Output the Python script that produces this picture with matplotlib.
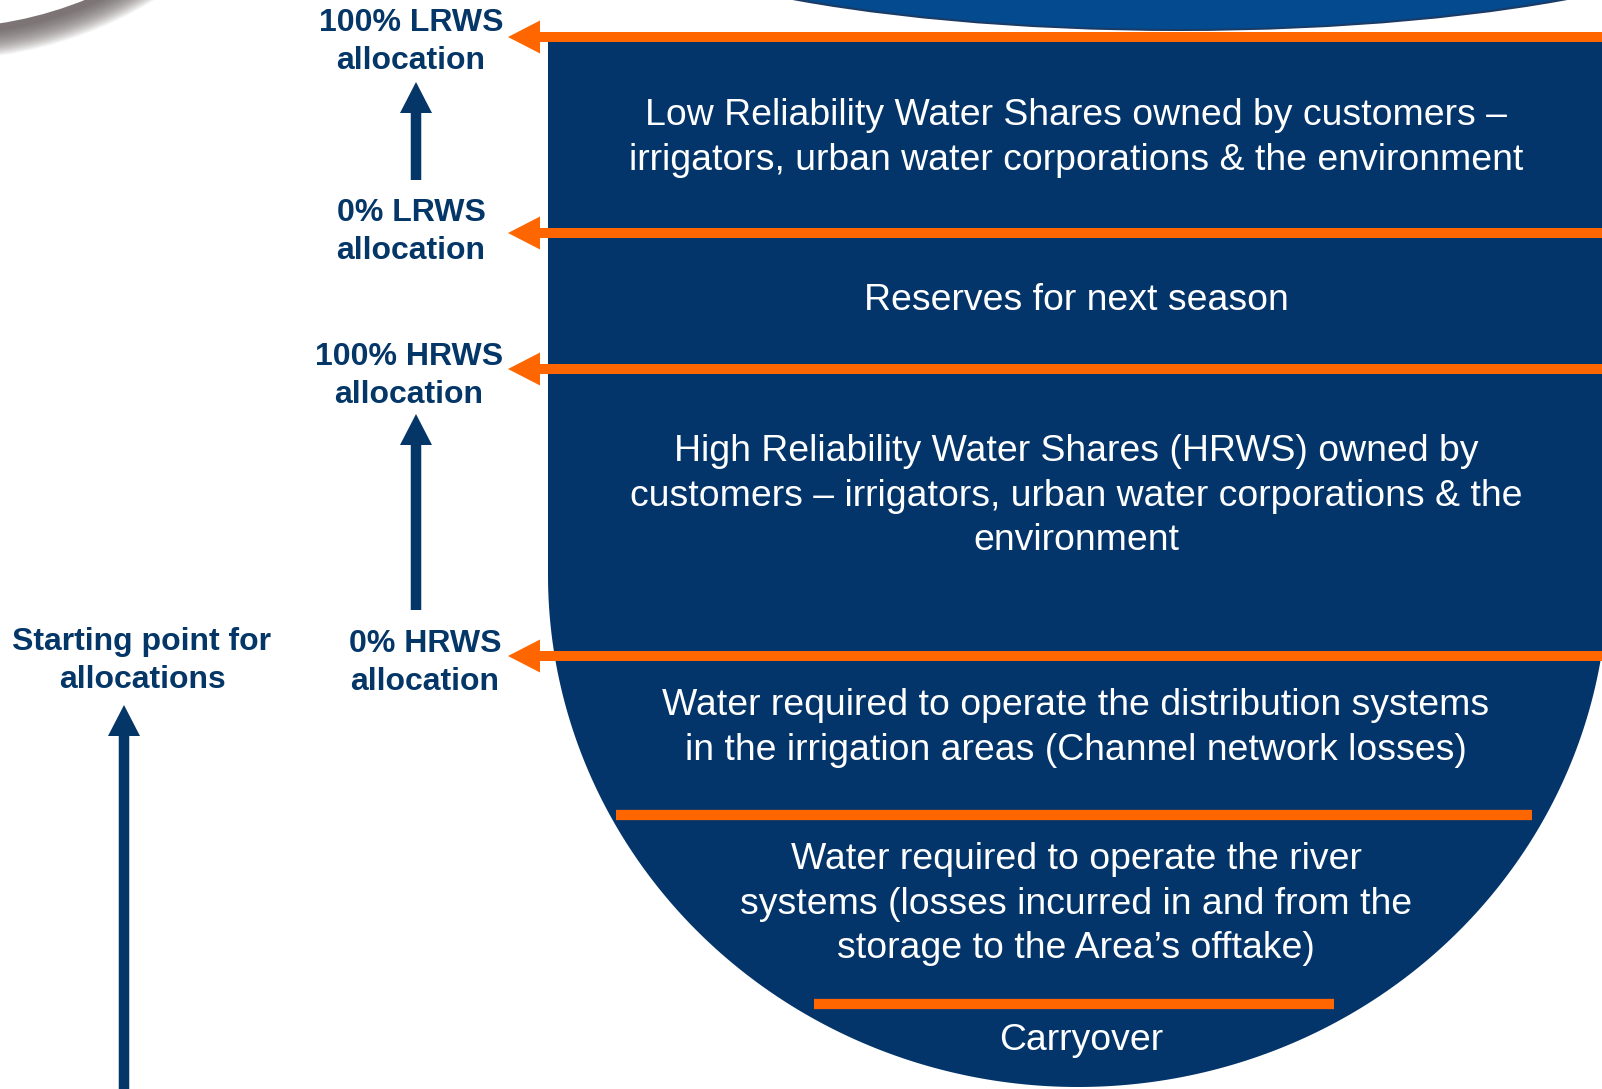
import numpy as np
import matplotlib
matplotlib.use("Agg")
import matplotlib.pyplot as plt
from matplotlib.patches import Polygon, FancyArrow, Ellipse, Circle

plt.rcParams['font.family'] = ['Liberation Sans', 'DejaVu Sans']

NAVY = "#03356a"
ORANGE = "#ff6600"
LABEL = "#043667"

# boundaries between the layers of the storage (pixel rows, top -> bottom)
level_y = [37, 233, 369, 656, 815, 1004]
level_arrow = [True, True, True, True, False, False]

# labels for the allocation steps on the left
step_labels = ["100% LRWS\nallocation", "0% LRWS\nallocation",
               "100% HRWS\nallocation", "0% HRWS\nallocation"]
step_x = [411, 411, 409, 425]
step_y = [42, 232, 376, 663]

start_label = "Starting point for\nallocations"

# text inside the bowl, top -> bottom
layer_texts = [
    "Low Reliability Water Shares owned by customers \u2013\nirrigators, urban water corporations & the environment",
    "Reserves for next season",
    "High Reliability Water Shares (HRWS) owned by\ncustomers \u2013 irrigators, urban water corporations & the\nenvironment",
    "Water required to operate the distribution systems\nin the irrigation areas (Channel network losses)",
    "Water required to operate the river\nsystems (losses incurred in and from the\nstorage to the Area\u2019s offtake)",
    "Carryover",
]
layer_text_x = [1076, 1076, 1076, 1076, 1076, 1081]
layer_text_y = [138, 301, 496, 728, 904, 1041]


def half_width(y, cy, a, b):
    if y <= cy:
        return a
    t = min((y - cy) / b, 1.0)
    return a * np.sqrt(1 - t * t)


def main():
    fig = plt.figure(figsize=(16.02, 10.89), dpi=100)
    ax = fig.add_axes([0, 0, 1, 1])
    ax.set_xlim(0, 1602)
    ax.set_ylim(1089, 0)
    ax.axis("off")

    # grey rim of the picture at top left
    for k in range(26, 0, -1):
        ax.add_patch(Circle((-60, -354), 388 + k, color="#5a5050",
                            alpha=0.05, lw=0, zorder=1))
    ax.add_patch(Circle((-60, -360), 388, color="white", lw=0, zorder=2))

    # blue water surface at the top
    ax.add_patch(Ellipse((1180, -101), 1204, 264, color="#1a3b66", lw=0, zorder=1))
    ax.add_patch(Ellipse((1180, -103), 1200, 264, color="#034a8e", lw=0, zorder=2))

    # the storage bowl
    cx, cy, a, b = 1078, 575, 530, 512
    t = np.linspace(np.pi, 0, 300)
    xs = cx + a * np.cos(t)
    ys = cy + b * np.sin(t)
    pts = [(cx - a, 42)] + list(zip(xs, ys)) + [(cx + a + 40, cy), (cx + a + 40, 42)]
    ax.add_patch(Polygon(pts, closed=True, color=NAVY, lw=0, zorder=3))

    # orange level lines
    for y, arr in zip(level_y, level_arrow):
        if arr:
            ax.add_patch(FancyArrow(1602, y, 508 - 1602, 0, width=10,
                                    head_width=33, head_length=32,
                                    length_includes_head=True,
                                    color=ORANGE, lw=0, zorder=5))
        else:
            hw = half_width(y, cy, a - 6, b - 18)
            ax.plot([cx - 4 - hw, cx - 4 + hw], [y, y], color=ORANGE, lw=7.4,
                    solid_capstyle="butt", zorder=5)

    # navy arrows on the left
    for x, y0, y1 in [(416, 180, 82), (416, 610, 414), (124, 1095, 705)]:
        ax.add_patch(FancyArrow(x, y0, 0, y1 - y0, width=10.5,
                                head_width=32, head_length=31,
                                length_includes_head=True,
                                color=LABEL, lw=0, zorder=5))

    for s, x, y in zip(step_labels, step_x, step_y):
        ax.text(x, y, s, ha="center", va="center", fontsize=23,
                fontweight="bold", color=LABEL, linespacing=1.36, zorder=6)
    ax.text(142, 661, start_label, ha="center", va="center", fontsize=23,
            fontweight="bold", color=LABEL, linespacing=1.36, zorder=6)

    for s, x, y in zip(layer_texts, layer_text_x, layer_text_y):
        ax.text(x, y, s, ha="center", va="center", fontsize=26.9,
                color="white", linespacing=1.34, zorder=6)

    fig.savefig("out.png", dpi=100)


if __name__ == "__main__":
    main()
